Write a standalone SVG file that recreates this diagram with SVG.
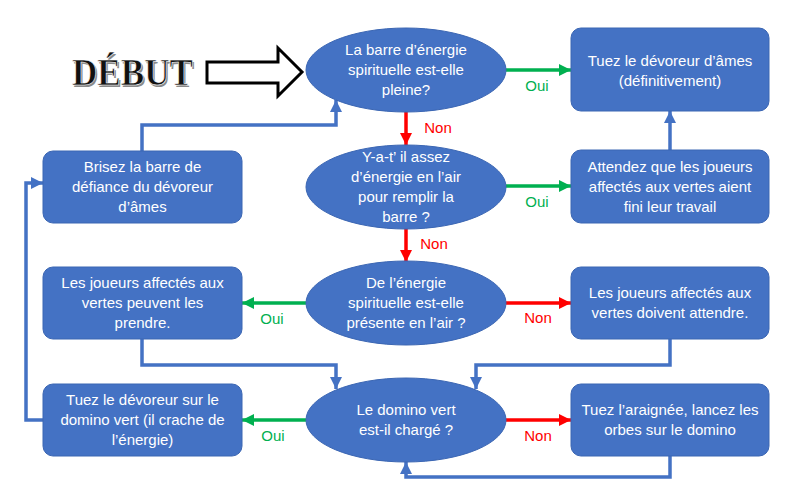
<svg xmlns="http://www.w3.org/2000/svg" width="798" height="501" viewBox="0 0 798 501">
<style>
.node{fill:#4472C4;stroke:#3B66B3;stroke-width:1}
.t{font-family:"Liberation Sans",Arial,sans-serif;font-size:15px;fill:#FFFFFF;text-anchor:middle}
.lbl{font-family:"Liberation Sans",Arial,sans-serif;font-size:15px;text-anchor:middle}
.g{fill:#00B050}
.r{fill:#FF0000}
.cg{stroke:#00B050;stroke-width:3.5;fill:none}
.cr{stroke:#FF0000;stroke-width:3.5;fill:none}
.cb{stroke:#4472C4;stroke-width:3.5;fill:none}
</style>
<defs>
<marker id="ag" viewBox="0 0 10 10" refX="10" refY="5" markerWidth="13" markerHeight="12" markerUnits="userSpaceOnUse" orient="auto"><path d="M0,0 L10,5 L0,10 z" fill="#00B050"/></marker>
<marker id="ar" viewBox="0 0 10 10" refX="10" refY="5" markerWidth="13" markerHeight="12" markerUnits="userSpaceOnUse" orient="auto"><path d="M0,0 L10,5 L0,10 z" fill="#FF0000"/></marker>
<marker id="ab" viewBox="0 0 10 10" refX="10" refY="5" markerWidth="12" markerHeight="12" markerUnits="userSpaceOnUse" orient="auto"><path d="M0,0 L10,5 L0,10 z" fill="#4472C4"/></marker>
</defs>
<rect width="798" height="501" fill="#FFFFFF"/>

<g id="debut">
<text x="73.5" y="86.5" font-family="'Liberation Serif',serif" font-weight="bold" font-size="37" fill="#8A8A8A" textLength="121" lengthAdjust="spacingAndGlyphs">DÉBUT</text>
<text x="72" y="85" font-family="'Liberation Serif',serif" font-weight="bold" font-size="37" fill="#111111" stroke="#FFFFFF" stroke-width="0.6" textLength="121" lengthAdjust="spacingAndGlyphs">DÉBUT</text>
<polygon points="207,62 278,62 278,48 302,72 278,96 278,83 207,83" fill="#FFFFFF" stroke="#000000" stroke-width="3" stroke-linejoin="miter"/>
</g>

<g id="connectors">
<path class="cg" d="M506,70 H571" marker-end="url(#ag)"/>
<path class="cg" d="M506,186 H571" marker-end="url(#ag)"/>
<path class="cg" d="M306,303 H242" marker-end="url(#ag)"/>
<path class="cg" d="M306,420 H242" marker-end="url(#ag)"/>
<path class="cr" d="M406,112 V145" marker-end="url(#ar)"/>
<path class="cr" d="M406,228 V262" marker-end="url(#ar)"/>
<path class="cr" d="M506,303 H571" marker-end="url(#ar)"/>
<path class="cr" d="M506,420 H571" marker-end="url(#ar)"/>
<path class="cb" d="M670,150 V111" marker-end="url(#ab)"/>
<path class="cb" d="M142,151 V125 H336 V100" marker-end="url(#ab)"/>
<path class="cb" d="M43,420 H26 V183 H43" marker-end="url(#ab)"/>
<path class="cb" d="M142,339 V365 H336 V389" marker-end="url(#ab)"/>
<path class="cb" d="M670,339 V365 H476 V389" marker-end="url(#ab)"/>
<path class="cb" d="M670,456 V477 H406 V462" marker-end="url(#ab)"/>
<text class="lbl g" x="537" y="91">Oui</text>
<text class="lbl g" x="537" y="207">Oui</text>
<text class="lbl g" x="272" y="324">Oui</text>
<text class="lbl g" x="273" y="441">Oui</text>
<text class="lbl r" x="438" y="133">Non</text>
<text class="lbl r" x="434" y="249">Non</text>
<text class="lbl r" x="538" y="323">Non</text>
<text class="lbl r" x="538" y="441">Non</text>
</g>

<g id="q1">
<ellipse class="node" cx="406" cy="70" rx="100" ry="42"/>
<text class="t" x="406" y="55">La barre d’énergie</text>
<text class="t" x="406" y="75">spirituelle est-elle</text>
<text class="t" x="406" y="95">pleine?</text>
</g>
<g id="q2">
<ellipse class="node" cx="406" cy="187" rx="100" ry="42"/>
<text class="t" x="406" y="162">Y-a-t’ il assez</text>
<text class="t" x="406" y="182">d’énergie en l’air</text>
<text class="t" x="406" y="202">pour remplir la</text>
<text class="t" x="406" y="222">barre ?</text>
</g>
<g id="q3">
<ellipse class="node" cx="406" cy="303" rx="100" ry="42"/>
<text class="t" x="406" y="288">De l’énergie</text>
<text class="t" x="406" y="308">spirituelle est-elle</text>
<text class="t" x="406" y="328">présente en l’air ?</text>
</g>
<g id="q4">
<ellipse class="node" cx="406" cy="420" rx="100" ry="42"/>
<text class="t" x="406" y="415">Le domino vert</text>
<text class="t" x="406" y="435">est-il chargé ?</text>
</g>

<g id="r1">
<rect class="node" x="571" y="28" width="198" height="83" rx="10"/>
<text class="t" x="670" y="66">Tuez le dévoreur d’âmes</text>
<text class="t" x="670" y="86">(définitivement)</text>
</g>
<g id="r2">
<rect class="node" x="571" y="150" width="198" height="73" rx="10"/>
<text class="t" x="670" y="172">Attendez que les joueurs</text>
<text class="t" x="670" y="192">affectés aux vertes aient</text>
<text class="t" x="670" y="212">fini leur travail</text>
</g>
<g id="r3">
<rect class="node" x="571" y="267" width="198" height="72" rx="10"/>
<text class="t" x="670" y="298">Les joueurs affectés aux</text>
<text class="t" x="670" y="318">vertes doivent attendre.</text>
</g>
<g id="r4">
<rect class="node" x="571" y="384" width="198" height="72" rx="10"/>
<text class="t" x="670" y="415">Tuez l’araignée, lancez les</text>
<text class="t" x="670" y="435">orbes sur le domino</text>
</g>

<g id="l2">
<rect class="node" x="43" y="151" width="199" height="72" rx="10"/>
<text class="t" x="142.5" y="172">Brisez la barre de</text>
<text class="t" x="142.5" y="192">défiance du dévoreur</text>
<text class="t" x="142.5" y="212">d’âmes</text>
</g>
<g id="l3">
<rect class="node" x="43" y="267" width="199" height="72" rx="10"/>
<text class="t" x="142.5" y="288">Les joueurs affectés aux</text>
<text class="t" x="142.5" y="308">vertes peuvent les</text>
<text class="t" x="142.5" y="328">prendre.</text>
</g>
<g id="l4">
<rect class="node" x="43" y="384" width="199" height="72" rx="10"/>
<text class="t" x="142.5" y="405">Tuez le dévoreur sur le</text>
<text class="t" x="142.5" y="425">domino vert (il crache de</text>
<text class="t" x="142.5" y="445">l’énergie)</text>
</g>
</svg>
